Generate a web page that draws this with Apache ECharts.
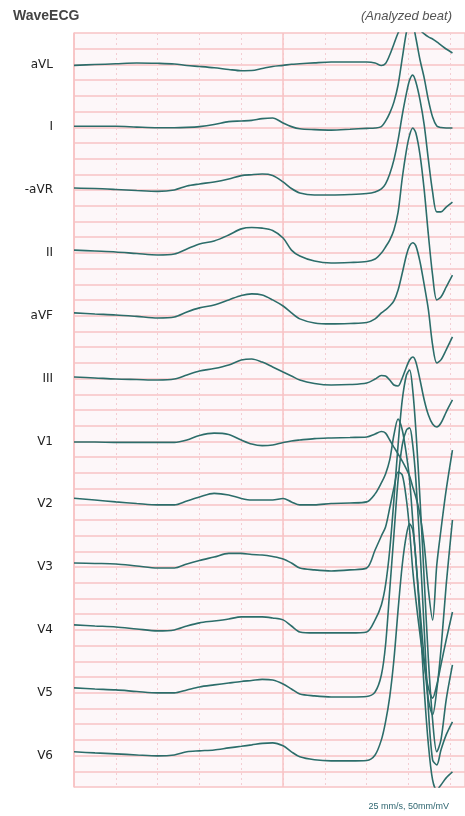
<!DOCTYPE html>
<html><head><meta charset="utf-8">
<script src="https://cdn.jsdelivr.net/npm/echarts@6/dist/echarts.min.js"></script>
<style>html,body{margin:0;padding:0;background:#fff}#c{width:465px;height:816px}</style>
</head><body><div id="c"></div>
<script>
// time of each sample (ms, 25 mm/s paper)
const timeMs = [0,100,200,300,400,480,540,600,670,740,800,850,900,950,1000,1040,1080,1150,1230,1320,1400,1440,1470,1490,1510,1530,1550,1570,1590,1605,1620,1635,1655,1675,1695,1715,1735,1755,1780,1810];
const leadNames = ['aVL','I','-aVR','II','aVF','III','V1','V2','V3','V4','V5','V6'];
// amplitudes in mV
const aVL = [-0.006,-0.001,0.004,0.009,0.007,0.003,-0.007,-0.013,-0.021,-0.032,-0.040,-0.039,-0.026,-0.013,-0.006,0.001,0.004,0.010,0.015,0.015,0.015,0.009,-0.007,0.006,0.060,0.130,0.200,0.244,0.270,0.276,0.270,0.251,0.219,0.194,0.175,0.162,0.143,0.123,0.098,0.073];
const leadI = [0.006,0.006,0.006,0.001,-0.003,-0.003,-0.001,0.004,0.017,0.036,0.040,0.044,0.055,0.059,0.027,0.004,-0.010,-0.015,-0.018,-0.013,-0.007,-0.005,0.004,0.039,0.090,0.160,0.269,0.440,0.606,0.669,0.657,0.568,0.428,0.313,0.173,0.065,0.008,-0.002,-0.005,-0.005];
const negAVR = [0.013,0.010,0.004,-0.003,-0.008,0.001,0.026,0.039,0.052,0.071,0.092,0.098,0.102,0.093,0.052,0.010,-0.018,-0.031,-0.031,-0.028,-0.022,-0.012,0.007,0.039,0.102,0.192,0.319,0.478,0.617,0.700,0.732,0.688,0.573,0.414,0.192,-0.012,-0.139,-0.139,-0.108,-0.076];
const leadII = [0.018,0.012,0.006,-0.004,-0.013,-0.007,0.025,0.057,0.076,0.114,0.153,0.162,0.158,0.143,0.095,0.018,-0.020,-0.052,-0.064,-0.061,-0.055,-0.039,-0.001,0.038,0.082,0.146,0.260,0.477,0.655,0.750,0.795,0.763,0.623,0.400,0.114,-0.141,-0.299,-0.281,-0.217,-0.141];
const aVF = [0.018,0.011,0.005,-0.004,-0.014,-0.008,0.024,0.050,0.069,0.101,0.129,0.139,0.132,0.101,0.062,0.018,-0.020,-0.046,-0.052,-0.049,-0.043,-0.020,0.018,0.037,0.062,0.094,0.164,0.272,0.387,0.445,0.465,0.445,0.342,0.196,0.037,-0.186,-0.300,-0.281,-0.217,-0.135];
const leadIII = [0.010,0.004,-0.003,-0.006,-0.009,-0.003,0.023,0.048,0.064,0.087,0.118,0.125,0.105,0.074,0.042,0.017,-0.009,-0.031,-0.041,-0.038,-0.028,-0.003,0.020,0.017,-0.009,-0.041,-0.047,0.004,0.074,0.118,0.137,0.106,-0.009,-0.136,-0.232,-0.289,-0.308,-0.283,-0.213,-0.136];
const V1 = [-0.004,-0.004,-0.006,-0.006,-0.006,-0.006,0.009,0.038,0.053,0.044,0.009,-0.017,-0.027,-0.023,-0.007,0.003,0.009,0.018,0.022,0.025,0.028,0.047,0.063,0.053,0.009,-0.036,-0.080,-0.125,-0.176,-0.220,-0.290,-0.354,-0.468,-0.659,-0.946,-1.137,-0.787,-0.564,-0.309,-0.055];
const V2 = [0.038,0.027,0.015,0.005,-0.004,-0.004,0.021,0.046,0.069,0.059,0.037,0.027,0.027,0.027,0.037,0.015,-0.004,-0.004,0.005,0.008,0.015,0.066,0.136,0.193,0.282,0.441,0.543,0.473,0.314,0.155,-0.100,-0.354,-0.673,-0.991,-1.246,-1.341,-1.182,-0.927,-0.513,-0.100];
const V3 = [0.026,0.023,0.020,0.007,-0.006,-0.006,0.020,0.042,0.064,0.087,0.087,0.080,0.077,0.067,0.052,0.026,-0.006,-0.018,-0.025,-0.018,-0.006,0.109,0.198,0.255,0.376,0.504,0.605,0.586,0.427,0.236,-0.018,-0.209,-0.432,-0.623,-0.770,-0.834,-0.751,-0.623,-0.464,-0.286];
const V4 = [0.032,0.025,0.019,0.006,-0.006,0.000,0.025,0.045,0.057,0.070,0.083,0.083,0.083,0.076,0.064,0.025,-0.013,-0.019,-0.019,-0.019,-0.013,0.064,0.159,0.286,0.509,0.828,1.178,1.464,1.623,1.655,1.527,1.273,0.828,0.318,-0.191,-0.573,-0.776,-0.700,-0.445,-0.223];
const V5 = [0.031,0.024,0.018,0.008,-0.001,-0.001,0.018,0.037,0.050,0.062,0.072,0.078,0.085,0.081,0.056,0.024,-0.008,-0.020,-0.027,-0.027,-0.024,0.005,0.113,0.304,0.654,1.005,1.355,1.578,1.673,1.686,1.578,1.355,0.909,0.400,-0.109,-0.427,-0.459,-0.364,-0.268,-0.185];
const V6 = [0.024,0.017,0.011,0.004,-0.002,0.004,0.024,0.030,0.036,0.049,0.059,0.068,0.078,0.081,0.062,0.024,-0.008,-0.027,-0.034,-0.034,-0.031,0.004,0.100,0.215,0.374,0.610,0.928,1.215,1.406,1.476,1.437,1.246,0.865,0.419,0.068,-0.155,-0.219,-0.187,-0.142,-0.104];

const leads = [aVL, leadI, negAVR, leadII, aVF, leadIII, V1, V2, V3, V4, V5, V6];
const LEAD_SPACING_UV = 400; // vertical spacing between lead baselines (µV)

const chart = echarts.init(document.getElementById('c'), null, {renderer: 'canvas'});
const traceColor = '#2c6d6a';
const gridPink = '#f7c3c5';

const series = leads.map((vals, k) => ({
  type: 'line', name: leadNames[k], showSymbol: false, smooth: 0.3, clip: true, silent: true,
  lineStyle: {color: traceColor, width: 1.6},
  data: timeMs.map((t, i) => [t, Math.round(vals[i] * 1000) - LEAD_SPACING_UV * k])
}));

chart.setOption({
  animation: false,
  backgroundColor: '#ffffff',
  title: [
    {text: 'WaveECG', left: 13, top: 9, padding: 0,
     textStyle: {fontFamily: 'Liberation Sans', fontWeight: 'bold', fontSize: 14, color: '#444'}},
    {text: '(Analyzed beat)', right: 13, top: 10, padding: 0,
     textStyle: {fontFamily: 'Liberation Sans', fontStyle: 'italic', fontWeight: 'normal', fontSize: 13, color: '#555'}},
    {text: '25 mm/s, 50mm/mV', right: 16, bottom: 5, padding: 0,
     textStyle: {fontFamily: 'Liberation Sans', fontWeight: 'normal', fontSize: 9, color: '#2f6670'}}
  ],
  grid: {left: 74, top: 33, right: 0, bottom: 29, show: true, backgroundColor: '#fdf7f9', borderWidth: 0},
  xAxis: [
    {type: 'value', min: 0, max: 1870, interval: 200,
     axisLabel: {show: false}, axisTick: {show: false}, axisLine: {show: false},
     splitLine: {show: true, lineStyle: {color: '#f4cdd3', width: 1, type: [2, 3]}}},
    {type: 'value', position: 'top', min: 0, max: 1870, interval: 1000,
     axisLabel: {show: false}, axisTick: {show: false}, axisLine: {show: false},
     splitLine: {show: true, lineStyle: {color: gridPink, width: 1.5}}}
  ],
  yAxis: {
    type: 'value', min: -4600, max: 200, interval: 100,
    axisLine: {show: true, lineStyle: {color: gridPink, width: 1.5}},
    axisTick: {show: false},
    splitLine: {show: true, lineStyle: {color: gridPink, width: 1.5}},
    axisLabel: {
      margin: 21, color: '#222', fontSize: 12, fontFamily: 'DejaVu Sans',
      formatter: v => {
        const r = Math.round(v);
        if (r <= 0 && r % LEAD_SPACING_UV === 0) {
          const k = -r / LEAD_SPACING_UV;
          return leadNames[k] || '';
        }
        return '';
      }
    }
  },
  series: series
});
</script>
</body></html>
